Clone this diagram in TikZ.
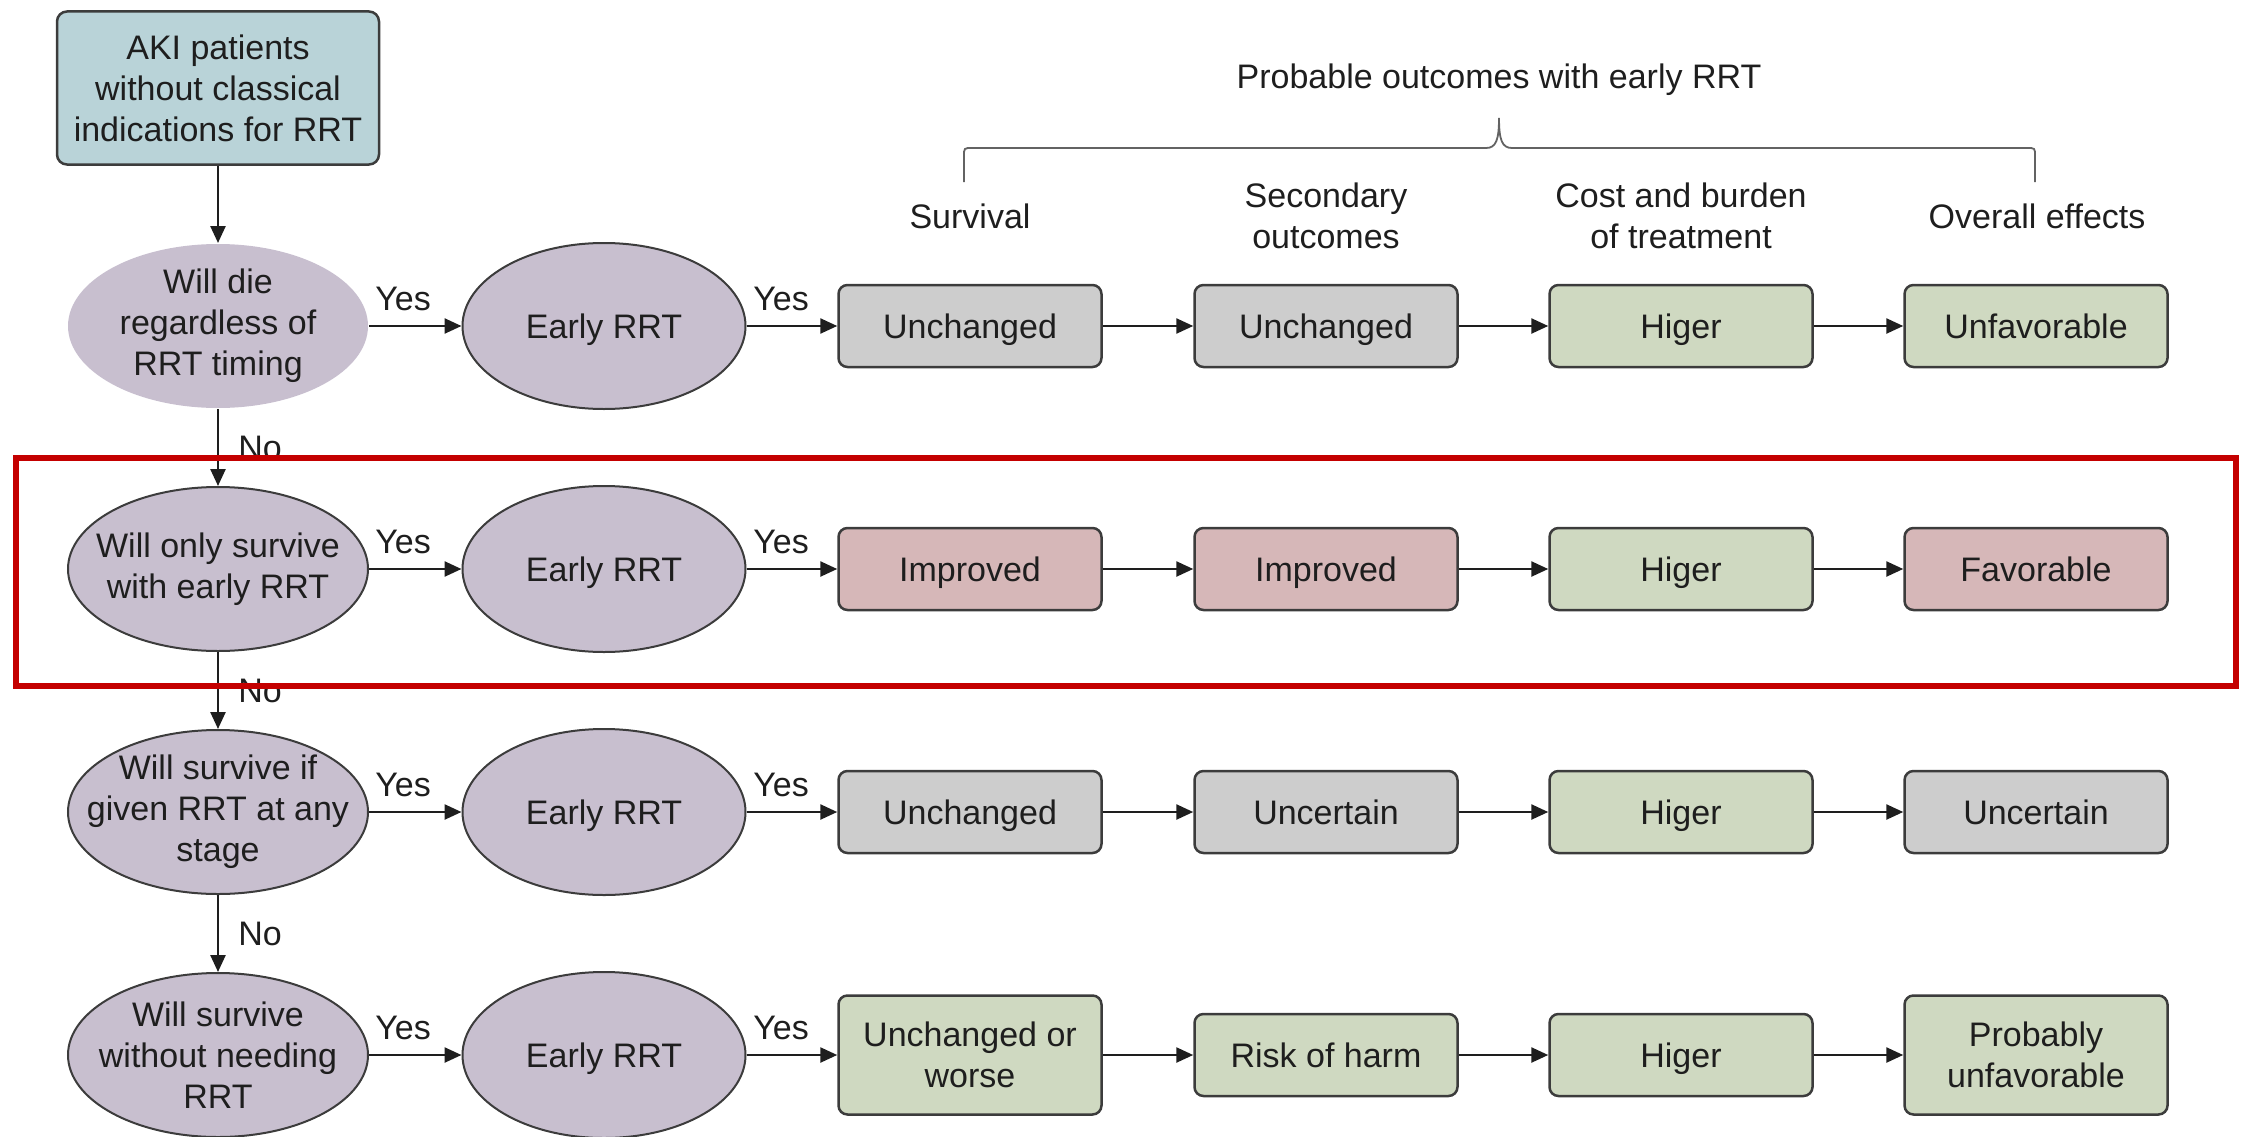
\documentclass[tikz,border=0pt]{standalone}
\usepackage{fontspec}
\setmainfont{Liberation Sans}
\usetikzlibrary{shapes.geometric,arrows.meta}
\definecolor{lav}{RGB}{200,191,207}
\definecolor{bluebox}{RGB}{185,211,216}
\definecolor{graybox}{RGB}{205,205,205}
\definecolor{greenbox}{RGB}{207,217,193}
\definecolor{pinkbox}{RGB}{214,183,184}
\definecolor{edge}{RGB}{60,60,60}
\definecolor{txt}{RGB}{30,30,30}
\definecolor{hilite}{RGB}{196,0,0}
\begin{document}
\begin{tikzpicture}[x=1pt,y=-1pt,
  every node/.style={font=\fontsize{34}{41}\selectfont, text=txt, align=center},
  qell/.style={ellipse, draw=edge, fill=lav, line width=2pt, minimum width=300pt, minimum height=164pt, inner sep=0pt},
  rell/.style={ellipse, draw=edge, fill=lav, line width=2pt, minimum width=283pt, minimum height=166pt, inner sep=0pt, text height=28pt, text depth=4pt},
  obox/.style={draw=edge, rounded corners=9pt, line width=2.5pt, minimum width=263pt, minimum height=82pt, inner sep=2pt},
  onebox/.style={obox, text height=28pt, text depth=4pt},
  tallbox/.style={obox, minimum height=119pt},
  arr/.style={draw=txt, line width=2.5pt, -{Triangle[length=17pt,width=15pt]}},
  lbl/.style={inner sep=0pt},
]
\useasboundingbox (0,0) rectangle (2242,1137);

% start box
\node[draw=edge, fill=bluebox, rounded corners=10pt, line width=2.5pt, minimum width=322pt, minimum height=153pt, inner sep=2pt] (aki) at (218,88) {AKI patients\\without classical\\indications for RRT};

% question ellipses
\node[qell, draw=none, label={center:{Will die\\regardless of\\RRT timing}}] (d1) at (218,326) {};
\node[qell, label={center:{Will only survive\\with early RRT}}] (d2) at (218,569) {};
\node[qell, label={center:{Will survive if\\given RRT at any\\stage}}] (d3) at (218,812) {};
\node[qell, label={center:{Will survive\\without needing\\RRT}}] (d4) at (218,1055) {};

% early RRT ellipses and Yes labels
\foreach \i/\yy in {1/326,2/569,3/812,4/1055} {
  \node[rell] (e\i) at (604,\yy) {Early RRT};
  \node[lbl] (ya\i) at (403,{\yy-27}) {Yes};
  \node[lbl] (yb\i) at (781,{\yy-27}) {Yes};
  \draw[arr] (d\i) -- (e\i);
}

% header
\node[lbl] (title) at (1499,80) {Probable outcomes with early RRT};
\node[lbl] (h1) at (970,216) {Survival};
\node[lbl] (h2) at (1326,216) {Secondary\\outcomes};
\node[lbl] (h3) at (1681,216) {Cost and burden\\of treatment};
\node[lbl] (h4) at (2037,216) {Overall effects};
\draw[draw=edge!80, line width=1.8pt] (964,182) -- (964,156) .. controls (964,148) .. (972,148) -- (1486,148)
  .. controls (1496,148) and (1499,140) .. (1499,118)
  .. controls (1499,140) and (1502,148) .. (1512,148) -- (2027,148) .. controls (2035,148) .. (2035,156) -- (2035,182);

% outcome boxes
\node[onebox, fill=graybox] (b11) at (970,326) {Unchanged};
\node[onebox, fill=graybox] (b12) at (1326,326) {Unchanged};
\node[onebox, fill=greenbox] (b13) at (1681,326) {Higer};
\node[onebox, fill=greenbox] (b14) at (2036,326) {Unfavorable};

\node[onebox, fill=pinkbox] (b21) at (970,569) {Improved};
\node[onebox, fill=pinkbox] (b22) at (1326,569) {Improved};
\node[onebox, fill=greenbox] (b23) at (1681,569) {Higer};
\node[onebox, fill=pinkbox] (b24) at (2036,569) {Favorable};

\node[onebox, fill=graybox] (b31) at (970,812) {Unchanged};
\node[onebox, fill=graybox] (b32) at (1326,812) {Uncertain};
\node[onebox, fill=greenbox] (b33) at (1681,812) {Higer};
\node[onebox, fill=graybox] (b34) at (2036,812) {Uncertain};

\node[tallbox, fill=greenbox] (b41) at (970,1055) {Unchanged or\\worse};
\node[onebox, fill=greenbox] (b42) at (1326,1055) {Risk of harm};
\node[onebox, fill=greenbox] (b43) at (1681,1055) {Higer};
\node[tallbox, fill=greenbox] (b44) at (2036,1055) {Probably\\unfavorable};

\foreach \i in {1,2,3,4} {
  \draw[arr] (e\i) -- (b\i1);
  \draw[arr] (b\i1) -- (b\i2);
  \draw[arr] (b\i2) -- (b\i3);
  \draw[arr] (b\i3) -- (b\i4);
}

% vertical flow
\draw[arr] (aki) -- (d1);
\draw[arr] (d1) -- node[lbl, right, xshift=19pt] (no1) {No} (d2);
\draw[arr] (d2) -- node[lbl, right, xshift=19pt] (no2) {No} (d3);
\draw[arr] (d3) -- node[lbl, right, xshift=19pt] (no3) {No} (d4);

% highlight frame
\draw[draw=hilite, line width=6pt] (16,458) rectangle (2236,686);
\end{tikzpicture}
\end{document}
